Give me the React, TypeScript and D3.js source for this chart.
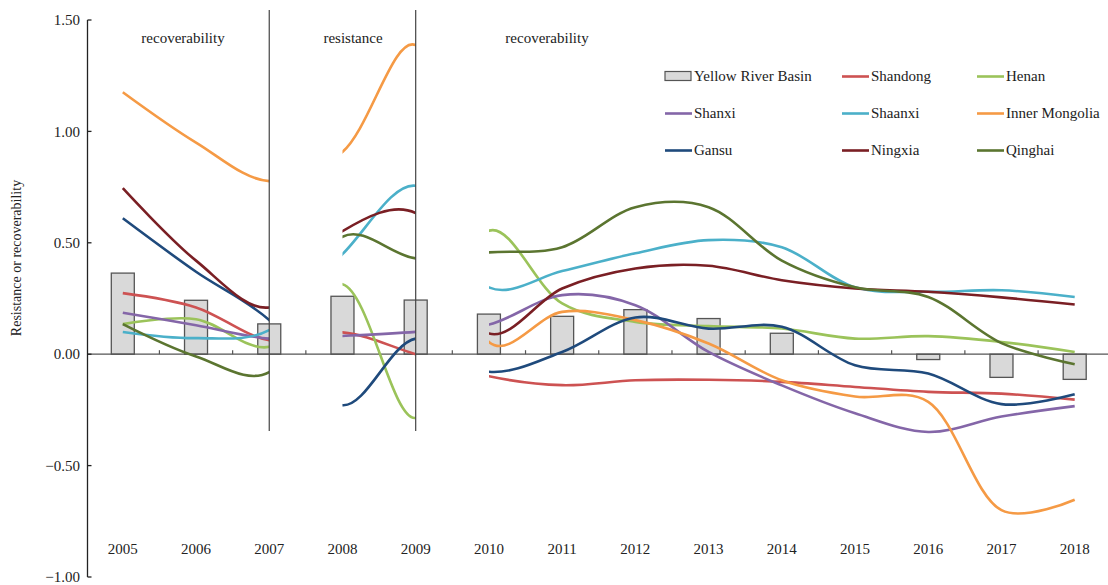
import React from "react";
import * as d3 from "d3";

const years = [2005, 2006, 2007, 2008, 2009, 2010, 2011, 2012, 2013, 2014, 2015, 2016, 2017, 2018];

const basin = [0.364, 0.242, 0.136, 0.26, 0.243, 0.18, 0.17, 0.2, 0.16, 0.094, 0, -0.024, -0.104, -0.113];

const shandong = [0.274, 0.21, 0.063, 0.098, 0.0, -0.099, -0.139, -0.117, -0.115, -0.124, -0.147, -0.169, -0.177, -0.204];
const henan = [0.135, 0.157, 0.033, 0.314, -0.286, 0.554, 0.228, 0.145, 0.126, 0.115, 0.07, 0.081, 0.055, 0.01];
const shanxi = [0.186, 0.13, 0.07, 0.082, 0.1, 0.133, 0.265, 0.22, 0.01, -0.14, -0.265, -0.349, -0.28, -0.233];
const shaanxi = [0.1, 0.072, 0.108, 0.449, 0.756, 0.3, 0.373, 0.453, 0.512, 0.48, 0.3, 0.28, 0.287, 0.257];
const innerMongolia = [1.176, 0.95, 0.777, 0.908, 1.387, 0.055, 0.19, 0.153, 0.048, -0.117, -0.19, -0.214, -0.7, -0.653];
const gansu = [0.61, 0.37, 0.153, -0.229, 0.07, -0.079, 0.01, 0.165, 0.115, 0.123, -0.05, -0.087, -0.224, -0.18];
const ningxia = [0.745, 0.42, 0.21, 0.552, 0.633, 0.093, 0.295, 0.385, 0.397, 0.332, 0.295, 0.28, 0.255, 0.223];
const qinghai = [0.135, -0.01, -0.08, 0.527, 0.43, 0.457, 0.48, 0.66, 0.66, 0.42, 0.3, 0.257, 0.05, -0.045];

const yTicks = [1.5, 1.0, 0.5, 0.0, -0.5, -1.0];

// [first year, last year, label]
const periods: [number, number, string][] = [
  [2005, 2007, "recoverability"],
  [2008, 2009, "resistance"],
  [2010, 2018, "recoverability"],
];

const series = [
  { name: "Shandong", values: shandong, color: "#cd5252" },
  { name: "Henan", values: henan, color: "#9bc35a" },
  { name: "Shanxi", values: shanxi, color: "#8466a8" },
  { name: "Shaanxi", values: shaanxi, color: "#4bb0c9" },
  { name: "Inner Mongolia", values: innerMongolia, color: "#f59a45" },
  { name: "Gansu", values: gansu, color: "#1f4a7c" },
  { name: "Ningxia", values: ningxia, color: "#7a1f24" },
  { name: "Qinghai", values: qinghai, color: "#5b7530" },
];

const W = 1108;
const H = 585;
const txt = { fontFamily: "'Liberation Serif', 'Times New Roman', serif" };

export default function App() {
  const x = d3.scalePoint<number>().domain(years).range([122.8, 1074.7]);
  const y = d3.scaleLinear().domain([-1, 1.5]).range([577, 20]);
  const step = x.step();
  const barW = 23;

  const line = d3
    .line<number>()
    .x((_, i) => x(years[i]) as number)
    .y(d => y(d))
    .curve(d3.curveCatmullRom.alpha(0.35));

  const xMid = years.slice(0, -1).map(yr => (x(yr) as number) + step / 2);

  // legend grid: 3 columns x 3 rows
  const legendItems = [{ name: "Yellow River Basin", color: "", bar: true }, ...series.map(s => ({ ...s, bar: false }))];
  const colX = [665, 842, 977];
  const rowY = [76.5, 113.5, 150.5];
  const labelX = [183, 353, 547];

  return (
    <svg width={W} height={H} style={{ position: "absolute", left: 0, top: 0, background: "#fff" }}>
      <defs>
        {periods.map(([a, b], i) => {
          const x0 = i === 0 ? 0 : (x(a) as number);
          const x1 = i === periods.length - 1 ? W : (x(b) as number);
          return (
            <clipPath id={`seg${i}`} key={i}>
              <rect x={x0} y={0} width={x1 - x0} height={H} />
            </clipPath>
          );
        })}
      </defs>

      {/* bars */}
      {basin.map((v, i) => (
        <rect
          key={i}
          x={(x(years[i]) as number) - barW / 2}
          y={Math.min(y(v), y(0))}
          width={barW}
          height={Math.abs(y(v) - y(0))}
          fill="#d9d9d9"
          stroke="#555"
          strokeWidth={1.3}
        />
      ))}

      {/* zero axis */}
      <line x1={87.5} x2={W} y1={y(0)} y2={y(0)} stroke="#555" strokeWidth={1.2} />
      {xMid.map((m, i) => (
        <line key={i} x1={m} x2={m} y1={y(0)} y2={y(0) - 4} stroke="#555" strokeWidth={1.2} />
      ))}

      {/* one continuous smoothed series per province, shown only inside each period */}
      {periods.map((_, pi) => (
        <g key={pi} clipPath={`url(#seg${pi})`}>
          {series.map(s => (
            <path key={s.name} d={line(s.values) || ""} fill="none" stroke={s.color} strokeWidth={2.6} />
          ))}
        </g>
      ))}

      {/* period separators */}
      {[2007, 2009].map(yr => (
        <line key={yr} x1={x(yr)} x2={x(yr)} y1={10} y2={431} stroke="#444" strokeWidth={1.2} />
      ))}

      {periods.map(([, , label], i) => (
        <text key={i} x={labelX[i]} y={43} textAnchor="middle" fontSize={15} fill="#222" style={txt}>
          {label}
        </text>
      ))}

      {/* y axis */}
      <line x1={87.5} x2={87.5} y1={y(1.5)} y2={y(-1)} stroke="#222" strokeWidth={1.3} />
      {yTicks.map(t => (
        <g key={t}>
          <line x1={87.5} x2={91.5} y1={y(t)} y2={y(t)} stroke="#222" strokeWidth={1.3} />
          <text x={80} y={y(t)} dy="0.35em" textAnchor="end" fontSize={15} fill="#222" style={txt}>
            {t < 0 ? "\u2212" + Math.abs(t).toFixed(2) : t.toFixed(2)}
          </text>
        </g>
      ))}
      <text transform="translate(21,258) rotate(-90)" textAnchor="middle" fontSize={14} fill="#222" style={txt}>
        Resistance or recoverability
      </text>

      {/* x labels */}
      {years.map(yr => (
        <text key={yr} x={x(yr)} y={549} dy="0.35em" textAnchor="middle" fontSize={15} fill="#222" style={txt}>
          {yr}
        </text>
      ))}

      {/* legend */}
      {legendItems.map((it, i) => {
        const cx = colX[i % 3];
        const cy = rowY[Math.floor(i / 3)];
        return (
          <g key={it.name}>
            {it.bar ? (
              <rect x={cx} y={cy - 5} width={26} height={9} fill="#d9d9d9" stroke="#555" strokeWidth={1.2} />
            ) : (
              <line x1={cx} x2={cx + 27} y1={cy} y2={cy} stroke={it.color} strokeWidth={2.6} />
            )}
            <text x={cx + 29} y={cy} dy="0.33em" fontSize={15} fill="#222" style={txt}>
              {it.name}
            </text>
          </g>
        );
      })}
    </svg>
  );
}
